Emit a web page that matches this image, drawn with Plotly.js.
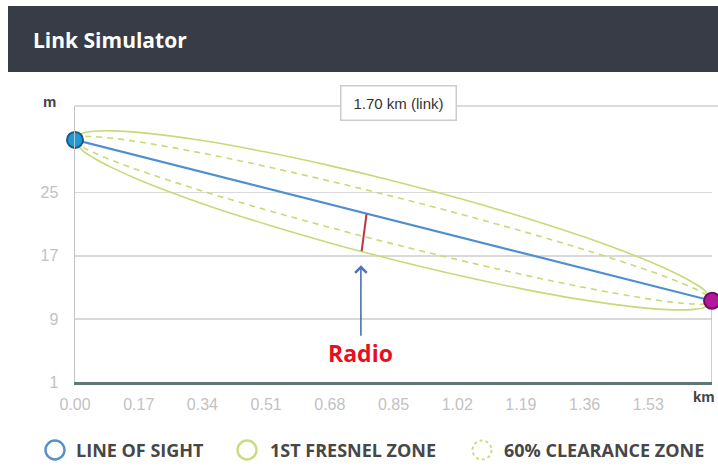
<!DOCTYPE html>
<html>
<head>
<meta charset="utf-8">
<script src="https://cdn.plot.ly/plotly-3.0.1.min.js"></script>
<style>html,body{margin:0;padding:0;background:#fff;}#chart{width:718px;height:466px;}</style>
</head>
<body>
<div id="chart"></div>
<script>
// ---- data ----
var distanceKm   = [0, 0.02, 0.05, 0.10, 0.17, 0.34, 0.51, 0.68, 0.85, 1.02, 1.19, 1.36, 1.53, 1.60, 1.65, 1.68, 1.70];
var lineOfSight  = [31.7, 31.46, 31.1, 30.5, 29.66, 27.62, 25.58, 23.54, 21.5, 19.46, 17.42, 15.38, 13.34, 12.5, 11.9, 11.54, 11.3];
var fresnelUpper = [31.7, 32.54, 32.79, 32.85, 32.66, 31.62, 30.16, 28.44, 26.5, 24.36, 22.0, 19.38, 16.34, 14.85, 13.59, 12.62, 11.3];
var fresnelLower = [31.7, 30.38, 29.41, 28.15, 26.66, 23.62, 21.0, 18.64, 16.5, 14.56, 12.84, 11.38, 10.34, 10.15, 10.21, 10.46, 11.3];
var clearUpper   = [31.7, 32.11, 32.11, 31.91, 31.46, 30.02, 28.33, 26.48, 24.5, 22.4, 20.17, 17.78, 15.14, 13.91, 12.91, 12.19, 11.3];
var clearLower   = [31.7, 30.81, 30.09, 29.09, 27.86, 25.22, 22.83, 20.6, 18.5, 16.52, 14.67, 12.98, 11.54, 11.09, 10.89, 10.89, 11.3];
var siteA = {x: 0, y: 31.7};
var siteB = {x: 1.70, y: 11.3};
var groundLevel = 1;
var radioMarkX = [0.778, 0.765];
var radioMarkY = [22.3, 17.6];
var radioArrowTip = {x: 0.763, y: 15.8};
var xTickVals = [0, 0.17, 0.34, 0.51, 0.68, 0.85, 1.02, 1.19, 1.36, 1.53];
var xTickText = ["0.00", "0.17", "0.34", "0.51", "0.68", "0.85", "1.02", "1.19", "1.36", "1.53"];
var yTickVals = [1, 9, 17, 25];
var linkLabel = "1.70 km (link)";
var legendLabels = ["LINE OF SIGHT", "1ST FRESNEL ZONE", "60% CLEARANCE ZONE"];

// ---- layout helpers (pixel -> paper) ----
var L = 75, R = 712, T = 106, B = 382;
function PX(px) { return (px - L) / (R - L); }
function PY(py) { return (B - py) / (B - T); }

var green = '#c6da78';
var traces = [
  {x: distanceKm.concat([null], distanceKm), y: fresnelUpper.concat([null], fresnelLower),
   mode: 'lines', line: {color: green, width: 1.6, shape: 'spline'}, connectgaps: false, hoverinfo: 'skip'},
  {x: distanceKm.concat([null], distanceKm), y: clearUpper.concat([null], clearLower),
   mode: 'lines', line: {color: green, width: 1.6, dash: '6px,5px', shape: 'spline'}, connectgaps: false, hoverinfo: 'skip'},
  {x: [siteB.x, siteB.x], y: [groundLevel, siteB.y], mode: 'lines', line: {color: '#bdbdbd', width: 1.5}, hoverinfo: 'skip'},
  {x: distanceKm, y: lineOfSight, mode: 'lines', line: {color: '#4f8fcf', width: 2.2}, hoverinfo: 'skip'},
  {x: radioMarkX, y: radioMarkY, mode: 'lines', line: {color: '#c0343e', width: 2}, hoverinfo: 'skip'},
  {x: [siteA.x], y: [siteA.y], mode: 'markers', marker: {size: 16, color: '#1a9ad6', line: {color: '#1b5c80', width: 2}}, cliponaxis: false, hoverinfo: 'skip'},
  {x: [siteB.x], y: [siteB.y], mode: 'markers', marker: {size: 16, color: '#b3179a', line: {color: '#6b1060', width: 2}}, cliponaxis: false, hoverinfo: 'skip'}
];

var legendX = [55, 247, 482];
var legendTextX = [74, 268, 502];
var legendColors = ['#5b8fc7', '#c8dc80', '#c8dc80'];
var legendY = 450;

var shapes = [
  {type: 'rect', xref: 'paper', yref: 'paper', x0: PX(8), x1: PX(730), y0: PY(72), y1: PY(6),
   fillcolor: '#373c46', line: {width: 0}, layer: 'below'},
  {type: 'line', xref: 'paper', yref: 'paper', x0: 0, x1: PX(720), y0: 1, y1: 1,
   line: {color: '#cfcfcf', width: 1.5}}
];
var annotations = [
  {xref: 'paper', yref: 'paper', x: PX(31), y: PY(40), xanchor: 'left', yanchor: 'middle', showarrow: false,
   text: '<b>Link Simulator</b>', font: {family: 'Open Sans', size: 21, color: '#ffffff'}},
  {xref: 'paper', yref: 'paper', x: PX(398), y: PY(103), xanchor: 'center', yanchor: 'middle', showarrow: false,
   text: linkLabel, font: {family: 'Liberation Sans', size: 15, color: '#333333'},
   bgcolor: '#ffffff', bordercolor: '#cccccc', borderwidth: 1.5, width: 112, height: 31},
  {xref: 'paper', yref: 'paper', x: PX(49), y: PY(102), xanchor: 'center', yanchor: 'middle', showarrow: false,
   text: '<b>m</b>', font: {family: 'Liberation Sans', size: 15, color: '#444444'}},
  {xref: 'paper', yref: 'paper', x: PX(717), y: PY(396), xanchor: 'right', yanchor: 'middle', showarrow: false,
   text: '<b>km</b>', font: {family: 'Liberation Sans', size: 15, color: '#444444'}},
  {x: radioArrowTip.x, y: radioArrowTip.y, ax: 0, ay: 88, showarrow: true, arrowhead: 4, arrowsize: 1.4,
   arrowwidth: 1.6, arrowcolor: '#4a72b8', text: '<b>Radio</b>',
   font: {family: 'Open Sans', size: 23, color: '#e8101e'}}
];
for (var i = 0; i < 3; i++) {
  shapes.push({type: 'circle', xref: 'paper', yref: 'paper', xsizemode: 'pixel', ysizemode: 'pixel',
    xanchor: PX(legendX[i]), yanchor: PY(legendY), x0: -9.5, x1: 9.5, y0: -9.5, y1: 9.5,
    line: {color: legendColors[i], width: i === 2 ? 2 : 2.4, dash: i === 2 ? 'dot' : 'solid'}});
  annotations.push({xref: 'paper', yref: 'paper', x: PX(legendTextX[i]), y: PY(legendY), xanchor: 'left', yanchor: 'middle',
    showarrow: false, text: '<b>' + legendLabels[i] + '</b>', font: {family: 'Open Sans', size: 18, color: '#474747'}});
}

var layout = {
  width: 718, height: 466,
  margin: {l: L, r: 718 - R, t: T, b: 466 - B},
  paper_bgcolor: '#ffffff', plot_bgcolor: '#ffffff',
  showlegend: false,
  xaxis: {range: [0, 1.70], tickvals: xTickVals, ticktext: xTickText, showgrid: false, zeroline: false,
    showline: true, linecolor: '#5f7876', linewidth: 3, ticks: '', ticklabelstandoff: 6,
    tickfont: {family: 'Liberation Sans', size: 16, color: '#c2c2c2'}},
  yaxis: {range: [1, 36], tickvals: yTickVals, showgrid: true, gridcolor: '#d9d9d9', gridwidth: 1.5, zeroline: false,
    showline: true, linecolor: '#c4c4c4', linewidth: 1.5, ticks: '', ticklabelstandoff: 12,
    tickfont: {family: 'Liberation Sans', size: 16, color: '#c2c2c2'}},
  shapes: shapes,
  annotations: annotations
};
Plotly.newPlot('chart', traces, layout, {displayModeBar: false, staticPlot: true});
</script>
</body>
</html>
